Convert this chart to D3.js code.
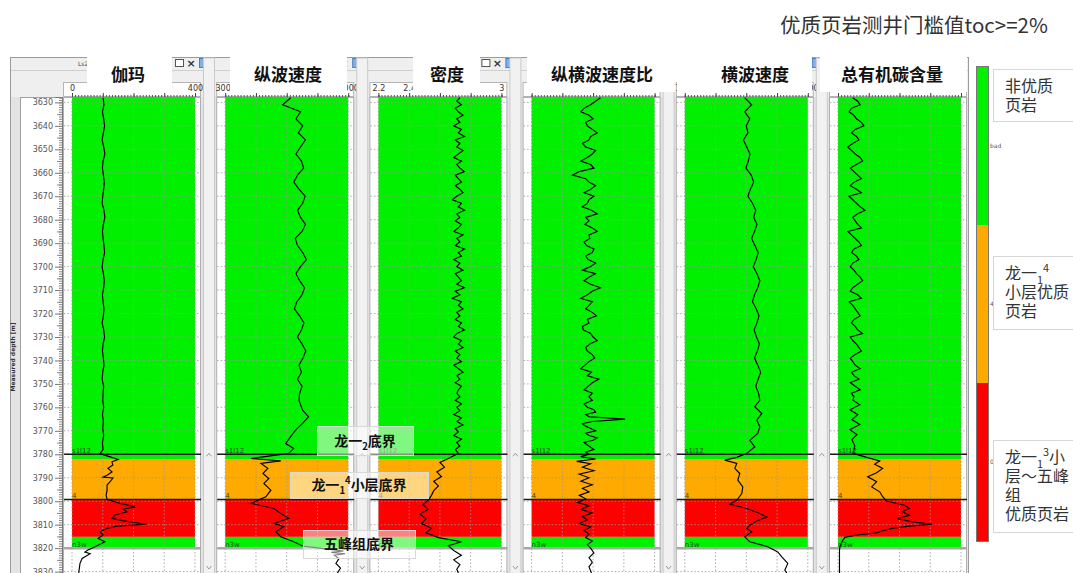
<!DOCTYPE html>
<html>
<head>
<meta charset="utf-8">
<script src="https://cdn.jsdelivr.net/npm/d3@7"></script>
<style>
  body { margin: 0; background: #fff; }
  svg { display: block; font-family: "Noto Sans CJK SC", "Noto Sans", sans-serif; }
</style>
</head>
<body>
<div id="chart"></div>
<script>
// ---------- data ----------
const chartTitle = "优质页岩测井门槛值toc>=2%";
const trackNames = ["伽玛", "纵波速度", "密度", "纵横波速度比", "横波速度", "总有机碳含量"];
const trackDomains = [[0, 400], [3000, 7000], [2.2, 3.0], [1, 2.5], [1500, 4500], [0, 10]];
const depthLabels = [3630, 3640, 3650, 3660, 3670, 3680, 3690, 3700, 3710, 3720, 3730,
  3740, 3750, 3760, 3770, 3780, 3790, 3800, 3810, 3820, 3830];

// upper section, smooth logs sampled every 3 m
const upperDepths = [3628, 3631, 3634, 3637, 3640, 3643, 3646, 3649, 3652, 3655, 3658, 3661, 3664,
  3667, 3670, 3673, 3676, 3679, 3682, 3685, 3688, 3691, 3694, 3697, 3700, 3703, 3706, 3709, 3712,
  3715, 3718, 3721, 3724, 3727, 3730, 3733, 3736, 3739, 3742, 3745, 3748, 3751, 3754];
const grUpper = [101, 104, 99, 103, 106, 102, 98, 103, 107, 101, 99, 102, 105, 103, 100, 98, 104, 107,
  102, 99, 101, 104, 106, 101, 98, 102, 105, 103, 99, 101, 104, 102, 98, 103, 106, 101, 99, 102, 104,
  100, 98, 103, 101];
const vpUpper = [5130, 4870, 5450, 5300, 5520, 5380, 5610, 5450, 5300, 5480, 5550, 5350, 5230, 5400,
  5600, 5520, 5350, 5450, 5610, 5500, 5280, 5350, 5520, 5640, 5450, 5300, 5420, 5580, 5500, 5330,
  5250, 5420, 5560, 5480, 5350, 5500, 5620, 5530, 5400, 5480, 5350, 5500, 5420];
const vsUpper = [2960, 3130, 2960, 3085, 3000, 3040, 2930, 3010, 3090, 3050, 2990, 3120, 3180, 3100,
  3040, 3150, 3230, 3180, 3260, 3200, 3130, 3210, 3290, 3240, 3170, 3260, 3330, 3280, 3200, 3150,
  3240, 3310, 3260, 3190, 3250, 3320, 3270, 3200, 3280, 3350, 3290, 3230, 3300];

// upper section, noisy logs sampled every 1.5 m
const fineDepths = [3628, 3629.5, 3631, 3632.5, 3634, 3635.5, 3637, 3638.5, 3640, 3641.5, 3643, 3644.5,
  3646, 3647.5, 3649, 3650.5, 3652, 3653.5, 3655, 3656.5, 3658, 3659.5, 3661, 3662.5, 3664, 3665.5,
  3667, 3668.5, 3670, 3671.5, 3673, 3674.5, 3676, 3677.5, 3679, 3680.5, 3682, 3683.5, 3685, 3686.5,
  3688, 3689.5, 3691, 3692.5, 3694, 3695.5, 3697, 3698.5, 3700, 3701.5, 3703, 3704.5, 3706, 3707.5,
  3709, 3710.5, 3712, 3713.5, 3715, 3716.5, 3718, 3719.5, 3721, 3722.5, 3724, 3725.5, 3727, 3728.5,
  3730, 3731.5, 3733, 3734.5, 3736, 3737.5, 3739, 3740.5, 3742, 3743.5, 3745, 3746.5, 3748, 3749.5,
  3751, 3752.5, 3754, 3755.5];
const denUpper = [2.73, 2.71, 2.74, 2.70, 2.72, 2.75, 2.71, 2.73, 2.69, 2.74,
  2.72, 2.76, 2.70, 2.73, 2.71, 2.75, 2.72, 2.69, 2.74, 2.71,
  2.73, 2.76, 2.70, 2.72, 2.74, 2.70, 2.73, 2.75, 2.71, 2.68,
  2.74, 2.72, 2.76, 2.71, 2.73, 2.70, 2.74, 2.72, 2.69, 2.75,
  2.71, 2.73, 2.70, 2.76, 2.72, 2.74, 2.69, 2.73, 2.71, 2.75,
  2.70, 2.72, 2.74, 2.71, 2.76, 2.70, 2.73, 2.68, 2.74, 2.72,
  2.75, 2.71, 2.73, 2.70, 2.74, 2.72, 2.76, 2.71, 2.69, 2.74,
  2.72, 2.75, 2.70, 2.73, 2.71, 2.74, 2.69, 2.72, 2.75, 2.71,
  2.73, 2.70, 2.74, 2.72, 2.71, 2.73];
const vpvsUpper = [1.84, 1.78, 1.72, 1.64, 1.60, 1.70, 1.75, 1.66, 1.68, 1.74,
  1.80, 1.72, 1.70, 1.62, 1.66, 1.78, 1.74, 1.68, 1.60, 1.72,
  1.76, 1.58, 1.50, 1.66, 1.70, 1.78, 1.72, 1.64, 1.76, 1.70,
  1.68, 1.62, 1.73, 1.80, 1.66, 1.70, 1.65, 1.74, 1.80, 1.70,
  1.71, 1.64, 1.67, 1.76, 1.74, 1.66, 1.69, 1.78, 1.72, 1.62,
  1.78, 1.70, 1.64, 1.72, 1.84, 1.74, 1.68, 1.60, 1.74, 1.70,
  1.66, 1.74, 1.79, 1.68, 1.70, 1.62, 1.63, 1.72, 1.75, 1.80,
  1.71, 1.66, 1.68, 1.74, 1.77, 1.70, 1.65, 1.60, 1.73, 1.68,
  1.82, 1.74, 1.69, 1.64, 1.74, 1.70];
const tocUpper = [1.2, 1.6, 1.8, 1.1, 0.9, 1.3, 1.5, 1.9, 2.1, 1.4,
  1.1, 1.5, 1.7, 1.2, 0.8, 1.1, 1.4, 1.8, 2.0, 1.5,
  1.0, 1.3, 1.6, 1.9, 1.3, 1.0, 1.5, 1.9, 0.9, 1.2,
  1.5, 1.8, 2.2, 1.6, 1.2, 1.4, 1.6, 1.9, 0.8, 1.1,
  1.4, 1.7, 1.9, 1.3, 1.1, 1.5, 1.7, 1.2, 1.0, 1.3,
  1.5, 1.8, 2.0, 1.6, 1.2, 1.0, 1.6, 1.9, 0.9, 1.2,
  1.4, 1.6, 1.8, 1.3, 1.1, 1.4, 1.6, 2.0, 1.0, 1.2,
  1.5, 1.7, 1.9, 1.4, 1.0, 1.2, 1.4, 1.8, 1.1, 1.3,
  1.7, 1.0, 1.4, 1.8, 1.1, 1.3];

// lower section, [depth, value]
const grLower = [[3757, 100], [3760, 103], [3763, 99], [3766, 102], [3769, 100], [3772, 103], [3775, 99],
  [3778, 101], [3779.7, 91], [3781.1, 124], [3782.2, 150], [3783.2, 130], [3784.6, 133], [3786, 117],
  [3787.5, 130], [3788.9, 114], [3789.7, 101], [3790.1, 133], [3791.7, 124], [3793.1, 114], [3795.3, 114],
  [3797.4, 111], [3799.2, 114], [3800.9, 156], [3802.4, 205], [3803.4, 166], [3804.5, 179], [3805.9, 140],
  [3807.3, 130], [3808.3, 163], [3809.8, 241], [3810.6, 146], [3811.6, 114], [3813, 91], [3814.4, 101],
  [3815.9, 85], [3817.3, 107], [3819.4, 75], [3820.8, 52], [3821.7, 42], [3822.4, 59], [3824.4, 33],
  [3826.5, 26], [3829.4, 23], [3830.6, 22]];
const vpLower = [[3757, 5400], [3761.2, 5516], [3764, 5710], [3766.8, 5516], [3769.7, 5290], [3772.5, 5129],
  [3775.4, 4968], [3777.5, 5226], [3779.6, 5065], [3781.8, 3839], [3782.8, 4807], [3783.9, 4161],
  [3786, 4387], [3788.2, 4226], [3790.3, 4419], [3792.4, 4258], [3795.3, 4484], [3798.1, 4323],
  [3800.9, 3839], [3803.1, 4581], [3805.2, 4807], [3807.3, 5065], [3809.5, 4581], [3810.9, 4903],
  [3813, 4645], [3815.2, 4807], [3817.3, 5226], [3819.1, 5516], [3820.5, 6400], [3821.2, 6850],
  [3821.8, 6450], [3822.4, 6900], [3823, 6550], [3824.5, 6700], [3826.5, 6600], [3828.5, 6750],
  [3830.6, 6650]];
const denLower = [[3757, 2.70], [3758.5, 2.74], [3760, 2.71], [3761.5, 2.73], [3763, 2.69], [3764.5, 2.74],
  [3766, 2.71], [3767.5, 2.75], [3769, 2.70], [3770.5, 2.72], [3772, 2.69], [3773.5, 2.74], [3775, 2.71],
  [3776.5, 2.73], [3778, 2.70], [3779.6, 2.72], [3781.8, 2.655], [3783.5, 2.60], [3785.5, 2.63],
  [3787.5, 2.58], [3789.5, 2.61], [3791.5, 2.56], [3793.5, 2.59], [3795.5, 2.56], [3797.5, 2.545],
  [3799.5, 2.525], [3801.5, 2.49], [3803.5, 2.525], [3805.5, 2.47], [3807.5, 2.51], [3809.5, 2.48],
  [3811.5, 2.545], [3813.5, 2.51], [3815.5, 2.59], [3817.3, 2.74], [3819, 2.655], [3821, 2.69],
  [3823, 2.74], [3825, 2.69], [3827, 2.73], [3829, 2.71], [3830.6, 2.72]];
const vpvsLower = [[3757, 1.74], [3758.5, 1.64], [3760, 1.68], [3761, 1.76], [3762, 1.78], [3763, 1.66],
  [3764, 1.70], [3765, 2.14], [3766, 1.74], [3767, 1.62], [3768, 1.66], [3769, 1.72], [3770, 1.78],
  [3771, 1.66], [3772, 1.70], [3773, 1.80], [3774, 1.75], [3775, 1.64], [3776, 1.68], [3777, 1.72],
  [3778, 1.76], [3779, 1.66], [3780, 1.70],
  [3781, 1.60], [3782, 1.78], [3783, 1.55], [3784, 1.72], [3785.5, 1.62], [3787, 1.76], [3788.5, 1.58],
  [3790, 1.70], [3791.5, 1.60], [3793, 1.74], [3794.5, 1.62], [3796, 1.70], [3797.5, 1.58], [3799, 1.66],
  [3800.5, 1.56], [3802, 1.70], [3803.5, 1.60], [3805, 1.74], [3806.5, 1.62], [3808, 1.68],
  [3809.5, 1.58], [3811, 1.72], [3812.5, 1.64], [3814, 1.70], [3815.5, 1.66], [3817, 1.74],
  [3818.5, 1.68], [3820, 1.72], [3822, 1.76], [3824, 1.70], [3826, 1.74], [3828, 1.70], [3830.6, 1.73]];
const vsLower = [[3757, 3329], [3759.7, 3207], [3762.6, 3378], [3765.4, 3256], [3768.3, 3329],
  [3771.1, 3280], [3774, 3085], [3776.8, 3207], [3779.6, 3012], [3781.3, 2768], [3782.5, 2476],
  [3783.9, 2768], [3786, 2720], [3788.2, 2841], [3791, 2793], [3793.9, 2915], [3796.7, 2890],
  [3799.6, 2768], [3801.3, 2598], [3803.1, 3012], [3805.2, 3329], [3806.7, 3500], [3808.4, 3256],
  [3810.2, 3085], [3811.6, 3012], [3813, 3134], [3815.2, 2963], [3817.3, 3085], [3819.4, 3524],
  [3821.6, 3768], [3823.7, 3866], [3826.5, 4012], [3829.4, 3939], [3830.6, 3990]];
const tocLower = [[3756.9, 1.21], [3758.9, 1.77], [3761, 0.97], [3763.1, 1.61], [3765.2, 1.13],
  [3767.3, 1.77], [3769.5, 0.97], [3771.6, 1.53], [3773.7, 1.13], [3776.5, 1.37], [3779.6, 1.21],
  [3781.3, 2.34], [3782.8, 3.39], [3784.2, 2.98], [3786, 3.63], [3787.9, 3.14], [3789.6, 2.42],
  [3791.7, 3.14], [3793.9, 2.74], [3796, 3.39], [3798.1, 3.63], [3799.9, 3.95], [3801.7, 5.40],
  [3803.1, 5.80], [3804.5, 5.24], [3806, 5.80], [3807.4, 4.84], [3808.8, 6.05], [3809.8, 7.66],
  [3810.6, 5.80], [3811.6, 4.43], [3812.6, 3.63], [3813.5, 3.14], [3814.4, 1.53], [3815.4, 0.56],
  [3817.3, 0.32], [3819.4, 0.16], [3821, 0.12], [3830.6, 0.12]];

// shale class zones
const zoneTops = [3627.7, 3782.3, 3799.3, 3815.2];
const zoneBottoms = [3782.3, 3799.3, 3815.2, 3820];
const zoneClass = ["bad", "4", "0", "bad"];
// well tops
const markerDepths = [3780, 3799.3, 3820];
const markerNames = ["s1l12", "4", "n3w"];

// legend
const legendClasses = ["bad", "4", "0"];
const legendLines = [
  [[{t: "非优质"}], [{t: "页岩"}]],
  [[{t: "龙一"}, {t: "1", s: "sub"}, {t: "4", s: "sup"}], [{t: "小层优质"}], [{t: "页岩"}]],
  [[{t: "龙一"}, {t: "1", s: "sub"}, {t: "3", s: "sup"}, {t: "小"}], [{t: "层～五峰"}], [{t: "组"}], [{t: "优质页岩"}]]
];
const noteLines = [
  [{t: "龙一"}, {t: "2", s: "sub"}, {t: "底界"}],
  [{t: "龙一"}, {t: "1", s: "sub"}, {t: "4", s: "sup"}, {t: "小层底界"}],
  [{t: "五峰组底界"}]
];

// ---------- layout ----------
const W = 1073, H = 573;
const classColor = {"bad": "#00f000", "4": "#ffaa00", "0": "#ff0000"};
const firstTrackX = 72, trackPitch = 153.2, trackWidth = 123;
const plotTop = 97;
const titleBoxes = [[87, 172], [230, 347], [413, 480], [527, 677], [677, 812], [820, 967]];
const titleCenters = [128, 288, 447, 602, 755, 892];
const noteBoxes = [[317, 426, 96, 29], [290, 472, 138, 26], [303, 530, 112, 28]];
const legendBoxes = [[993, 69, 52], [993, 256, 73], [993, 440, 92]];

const svg = d3.select("#chart").append("svg").attr("width", W).attr("height", H);
const y = d3.scaleLinear().domain([3627.7, 3830.6]).range([plotTop, 573]);

function addRich(textSel, segs, size) {
  let shift = 0;
  segs.forEach(seg => {
    const target = seg.s === "sub" ? size * 0.3 : seg.s === "sup" ? -size * 0.45 : 0;
    textSel.append("tspan")
      .attr("dy", target - shift)
      .attr("font-size", seg.s ? size * 0.68 : size)
      .text(seg.t);
    shift = target;
  });
}

// title
svg.append("text").attr("x", 780).attr("y", 33)
  .attr("font-size", 20.5).attr("fill", "#333").text(chartTitle);

// outer window frame
svg.append("rect").attr("x", 10.5).attr("y", 57.5).attr("width", 958).attr("height", 530)
  .attr("fill", "#e3e3e3").attr("stroke", "#9a9a9a");
svg.append("rect").attr("x", 11).attr("y", 58).attr("width", 957).attr("height", 39)
  .attr("fill", "#efefef");
svg.append("line").attr("x1", 11).attr("x2", 968).attr("y1", 70.5).attr("y2", 70.5)
  .attr("stroke", "#cfcfcf");

// depth panel
svg.append("rect").attr("x", 20.5).attr("y", plotTop + 0.5).attr("width", 42).attr("height", 490)
  .attr("fill", "#fff").attr("stroke", "#a0a0a0");
const depthAxis = svg.append("g").attr("transform", "translate(62,0)")
  .call(d3.axisLeft(y).tickValues(depthLabels).tickSize(7).tickPadding(2).tickFormat(d3.format("d")));
depthAxis.select(".domain").attr("stroke", "#777");
depthAxis.selectAll("line").attr("stroke", "#777");
depthAxis.selectAll("text").attr("font-size", 8).attr("fill", "#555").attr("font-family", "DejaVu Sans");
svg.append("g").attr("transform", "translate(62,0)")
  .call(d3.axisLeft(y).tickValues(d3.range(3628, 3831, 1)).tickSize(3).tickFormat(""))
  .call(g => g.select(".domain").remove())
  .selectAll("line").attr("stroke", "#888");
svg.append("g").attr("transform", "translate(62,0)")
  .call(d3.axisLeft(y).tickValues(d3.range(3635, 3831, 10)).tickSize(5).tickFormat(""))
  .call(g => g.select(".domain").remove())
  .selectAll("line").attr("stroke", "#888");
svg.append("text").attr("transform", "translate(15,357) rotate(-90)")
  .attr("text-anchor", "middle").attr("font-size", 6).attr("font-weight", "bold")
  .attr("fill", "#333").attr("font-family", "DejaVu Sans").text("Measured depth [m]");
svg.append("text").attr("x", 78).attr("y", 66).attr("font-size", 6).attr("fill", "#444")
  .attr("font-family", "DejaVu Sans").text("Ls2");

// logs
const logs = [
  upperDepths.map((d, k) => [d, grUpper[k]]).concat(grLower),
  upperDepths.map((d, k) => [d, vpUpper[k]]).concat(vpLower),
  fineDepths.map((d, k) => [d, denUpper[k]]).concat(denLower),
  fineDepths.map((d, k) => [d, vpvsUpper[k]]).concat(vpvsLower),
  upperDepths.map((d, k) => [d, vsUpper[k]]).concat(vsLower),
  fineDepths.map((d, k) => [d, tocUpper[k]]).concat(tocLower)
];
const zones = zoneTops.map((t, k) => ({top: t, bottom: zoneBottoms[k], cls: zoneClass[k]}));
const markers = markerDepths.map((d, k) => ({depth: d, name: markerNames[k], last: k === markerDepths.length - 1}));

trackNames.forEach((name, i) => {
  const x0 = firstTrackX + i * trackPitch, x1 = x0 + trackWidth;
  const dom = trackDomains[i];
  const x = d3.scaleLinear().domain(dom).range([x0, x1]);
  const quarters = d3.range(5).map(k => dom[0] + (dom[1] - dom[0]) * k / 4);
  const fine = d3.range(41).map(k => dom[0] + (dom[1] - dom[0]) * k / 40);
  const tb = titleBoxes[i];
  const hidden = (a, b) => a >= tb[0] && b <= tb[1];
  const g = svg.append("g");

  // window title bar buttons (only those not under the title box)
  if (!hidden(x1 - 20, x1 - 11)) {
    g.append("rect").attr("x", x1 - 19.5).attr("y", 59.5).attr("width", 8).attr("height", 7)
      .attr("fill", "#fff").attr("stroke", "#555");
  }
  if (!hidden(x1 - 8, x1)) {
    g.append("text").attr("x", x1 - 4).attr("y", 67).attr("text-anchor", "middle")
      .attr("font-size", 11).attr("font-weight", "bold").attr("fill", "#333")
      .attr("font-family", "DejaVu Sans").text("×");
  }
  if (i < trackNames.length - 1) {
    g.append("rect").attr("x", x1 + 4.5).attr("y", 58.5).attr("width", 10).attr("height", 9)
      .attr("fill", "#7fb0e6").attr("stroke", "#4a7fc0");
  }

  // scale box
  g.append("rect").attr("x", x0 - 8.5).attr("y", 82.5).attr("width", trackWidth + 14).attr("height", 14)
    .attr("fill", "#fff").attr("stroke", "#b5b5b5");
  const ruler = g.append("g").attr("transform", `translate(0,${plotTop})`);
  ruler.call(d3.axisTop(x).tickValues(fine).tickSize(2).tickFormat(""))
    .call(a => a.select(".domain").attr("stroke", "#666"))
    .selectAll("line").attr("stroke", "#555");
  const scale = g.append("g").attr("transform", `translate(0,${plotTop})`)
    .call(d3.axisTop(x).tickValues(quarters).tickSize(4).tickPadding(2).tickFormat(d3.format("~g")));
  scale.select(".domain").remove();
  scale.selectAll("line").attr("stroke", "#444");
  scale.selectAll("text").attr("font-size", 8).attr("fill", "#333").attr("font-family", "DejaVu Sans");

  // plot area
  g.append("rect").attr("x", x0 - 8.5).attr("y", plotTop + 0.5).attr("width", trackWidth + 14)
    .attr("height", 490).attr("fill", "#fff").attr("stroke", "#b0b0b0");
  g.selectAll(".zone").data(zones).join("rect")
    .attr("x", x0).attr("width", trackWidth)
    .attr("y", d => y(d.top)).attr("height", d => y(d.bottom) - y(d.top))
    .attr("fill", d => classColor[d.cls]);

  // grid
  g.selectAll(".hgrid").data(depthLabels).join("line")
    .attr("x1", x0 - 8).attr("x2", x1 + 6).attr("y1", d => y(d)).attr("y2", d => y(d))
    .attr("stroke", "#9a9a9a").attr("stroke-dasharray", "1.5,2").attr("opacity", 0.8);
  g.selectAll(".vgrid").data(quarters).join("line")
    .attr("x1", d => x(d)).attr("x2", d => x(d)).attr("y1", plotTop).attr("y2", H)
    .attr("stroke", "#9a9a9a").attr("stroke-dasharray", "1.5,2").attr("opacity", 0.8);

  // well tops
  g.selectAll(".top").data(markers).join("line")
    .attr("x1", x0 - 8).attr("x2", x1 + 6).attr("y1", d => y(d.depth)).attr("y2", d => y(d.depth))
    .attr("stroke", d => d.last ? "#a8a8a8" : "#1a1a1a").attr("stroke-width", d => d.last ? 2.5 : 1.6);
  g.selectAll(".toplabel").data(markers).join("text")
    .attr("x", x0).attr("y", d => y(d.depth) - 1.5)
    .attr("font-size", 7).attr("fill", "#2d4a2d").attr("font-family", "DejaVu Sans")
    .text(d => d.name);

  // curve
  const clipId = "clip" + i;
  svg.append("clipPath").attr("id", clipId).append("rect")
    .attr("x", x0 - 8).attr("y", plotTop).attr("width", trackWidth + 14).attr("height", H - plotTop);
  g.append("path").datum(logs[i])
    .attr("clip-path", `url(#${clipId})`)
    .attr("fill", "none").attr("stroke", "#000").attr("stroke-width", 1.15)
    .attr("d", d3.line().x(d => x(d[1])).y(d => y(d[0])));

  // scrollbar between tracks
  if (i < trackNames.length - 1) {
    const sx = x1 + 8;
    g.append("rect").attr("x", sx + 0.5).attr("y", 58).attr("width", 11).attr("height", 530)
      .attr("fill", "#f1f1f1").attr("stroke", "#cacaca");
    const chevron = d3.line();
    g.append("path").attr("d", chevron([[sx + 3.5, y(3780) + 2], [sx + 6, y(3780) - 1], [sx + 8.5, y(3780) + 2]]))
      .attr("fill", "none").attr("stroke", "#999");
    g.append("path").attr("d", chevron([[sx + 3.5, 566], [sx + 6, 569], [sx + 8.5, 566]]))
      .attr("fill", "none").attr("stroke", "#999");
  }

  // track title
  svg.append("rect").attr("x", tb[0]).attr("y", 57).attr("width", tb[1] - tb[0]).attr("height", 35)
    .attr("fill", "#fff");
  svg.append("text").attr("x", titleCenters[i]).attr("y", 81).attr("text-anchor", "middle")
    .attr("font-size", 17).attr("font-weight", "bold").attr("fill", "#111").text(name);
});

// boundary notes
noteLines.forEach((segs, k) => {
  const b = noteBoxes[k];
  svg.append("rect").attr("x", b[0] + 0.5).attr("y", b[1] + 0.5).attr("width", b[2]).attr("height", b[3])
    .attr("fill", "#fff").attr("fill-opacity", 0.5).attr("stroke", "#d8d8d8");
  const t = svg.append("text").attr("x", b[0] + b[2] / 2).attr("y", b[1] + b[3] / 2 + 5)
    .attr("text-anchor", "middle").attr("font-weight", "bold").attr("font-size", 14).attr("fill", "#111");
  addRich(t, segs, 14);
});

// legend colour bar
const band = d3.scaleBand().domain(legendClasses).range([67, 541]);
svg.selectAll(".lg").data(legendClasses).join("rect")
  .attr("x", 977).attr("width", 11).attr("y", d => band(d)).attr("height", band.bandwidth())
  .attr("fill", d => classColor[d]);
svg.append("rect").attr("x", 976.5).attr("y", 66.5).attr("width", 12).attr("height", 475)
  .attr("fill", "none").attr("stroke", "#777");
svg.selectAll(".lgt").data(legendClasses).join("text")
  .attr("x", 990).attr("y", d => band(d) + band.bandwidth() / 2 + 2)
  .attr("font-size", 6).attr("fill", "#555").attr("font-family", "DejaVu Sans").text(d => d);

legendLines.forEach((lines, k) => {
  const b = legendBoxes[k];
  svg.append("rect").attr("x", b[0] + 0.5).attr("y", b[1] + 0.5).attr("width", 90).attr("height", b[2])
    .attr("fill", "#fff").attr("stroke", "#d6d6d6");
  lines.forEach((segs, j) => {
    const t = svg.append("text").attr("x", 1005).attr("y", b[1] + 23 + j * 19)
      .attr("font-size", 16).attr("fill", "#333");
    addRich(t, segs, 16);
  });
});
</script>
</body>
</html>
